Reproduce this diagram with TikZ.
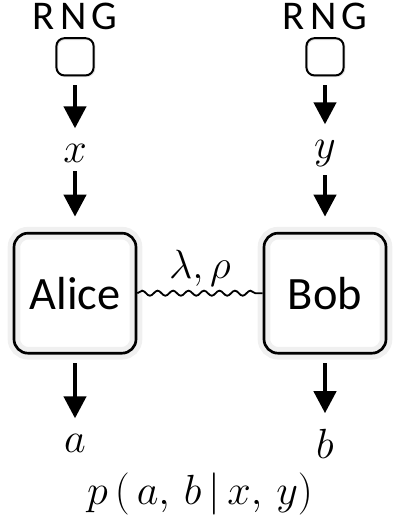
\documentclass[tikz,border=0pt]{standalone}
\usepackage{fix-cm}
\usepackage{fontspec}
\setsansfont{Carlito}
\usepackage{tikz}
\usetikzlibrary{arrows.meta}
\usetikzlibrary{decorations.pathmorphing}

\begin{document}
\begin{tikzpicture}[
    party/.style={draw=black,line width=1.9pt,rounded corners=0.35cm,minimum width=3.05cm,minimum height=3cm,
        font=\sffamily\fontsize{33}{36}\selectfont,preaction={draw=black!6,line width=9pt}},
    rngbox/.style={draw=black,line width=1.4pt,rounded corners=0.2cm,minimum size=0.93cm,
        preaction={draw=black!12,line width=1.4pt,transform canvas={shift={(0.6pt,-0.6pt)}}}},
    rngtext/.style={anchor=base,inner sep=0pt,font=\sffamily\fontsize{29}{31}\selectfont},
    var/.style={anchor=base,inner sep=0pt,font=\fontsize{30}{32}\selectfont},
    flow/.style={line width=3pt,-{Triangle[width=0.55cm,length=0.55cm]},shorten <=0.22cm,shorten >=0.38cm},
    wavy/.style={line width=1.3pt,decorate,decoration={snake,amplitude=1.8pt,segment length=11pt}}]
    \useasboundingbox (0,0) rectangle (10,-13.025);

    \node (rngA)[rngtext] at (1.875, -0.74) {R\kern3.5pt N\kern3.5pt G};
    \node (rngB)[rngtext] at (8.125, -0.74) {R\kern3.5pt N\kern3.5pt G};
    \node (rngboxA)[rngbox] at (1.875, -1.42) {};
    \node (rngboxB)[rngbox] at (8.125, -1.42) {};

    \node (xA)[var] at (1.875, -4.05) {$x$};
    \node (yB)[var] at (8.125, -3.95) {$y$};

    \node (alice)[party] at (1.875, -7.33) {Alice};
    \node (bob)[party] at (8.125, -7.33) {Bob};

    \node (aA)[var] at (1.875, -11.3) {$a$};
    \node (bB)[var] at (8.125, -11.45) {$b$};

    \node (prob)[var] at (5, -12.62) {$p\,(\,a,\,b\,|\,x,\,y)$};

    \path [flow] (rngboxA) edge (xA);
    \path [flow] (xA) edge (alice);
    \path [flow] (rngboxB) edge (yB);
    \path [flow] (yB) edge (bob);
    \path [flow] (alice) edge (aA);
    \path [flow] (bob) edge (bB);

    \draw [wavy] (alice) -- node[above=3pt,inner sep=1pt,font=\fontsize{29}{31}\selectfont] (shared) {$\lambda,\rho$} (bob);
\end{tikzpicture}
\end{document}
